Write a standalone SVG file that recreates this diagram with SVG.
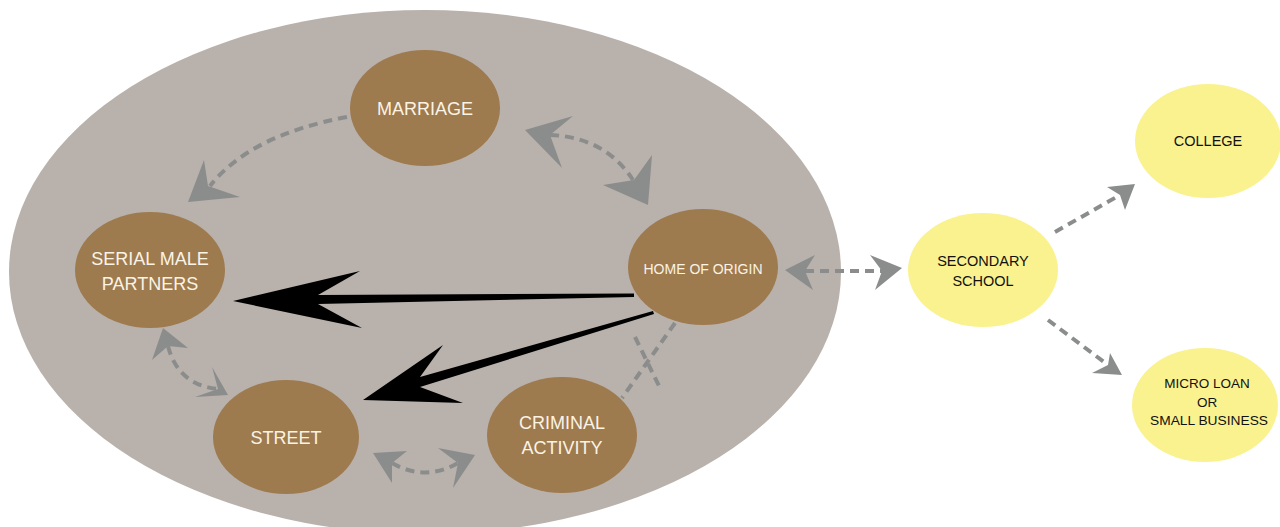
<svg xmlns="http://www.w3.org/2000/svg" width="1280" height="527" viewBox="0 0 1280 527">
<style>
.brown{fill:#9e7a4f}
.yellow{fill:#faf28f}
.lt{fill:#fbf3e4;font-family:"Liberation Sans",Arial,sans-serif;text-anchor:middle}
.dk{fill:#111111;font-family:"Liberation Sans",Arial,sans-serif;text-anchor:middle;font-size:14.5px}
.sm{font-size:13.5px}
.dash{fill:none;stroke:#8b8d8d;stroke-width:4;stroke-dasharray:9 6}
.head{fill:#8b8d8d}
.black{fill:#000}
</style>
<rect width="1280" height="527" fill="#ffffff"/>
<ellipse id="context" cx="425" cy="272" rx="416" ry="262" fill="#b9b1ab"/>
<g id="connectors">
  <path class="dash" d="M347,117 Q250,135 210,186"/>
  <polygon class="head" points="188,202 204,160 208,186 240,197"/>
  <path class="dash" d="M550,135 Q605,137 633,180"/>
  <polygon class="head" points="525,130 573,116 550,135 562,168"/>
  <polygon class="head" points="648,205 652,155 634,180 603,185"/>
  <path class="dash" d="M168,346 Q178,385 218,389"/>
  <polygon class="head" points="163,328 188,348 168,346 152,360"/>
  <polygon class="head" points="228,395 212,367 218,389 195,397"/>
  <path class="dash" d="M392,463 Q425,482 458,463"/>
  <polygon class="head" points="373,453 407,451 392,463 392,483"/>
  <polygon class="head" points="475,455 438,448 458,463 453,488"/>
  <path class="dash" d="M675,323 L622,398"/>
  <path class="dash" d="M635,337 L660,388"/>
  <path class="dash" d="M805,271 L882,271"/>
  <polygon class="head" points="785,270 815,255 805,271 813,290"/>
  <polygon class="head" points="902,268 870,255 882,271 875,290"/>
  <path class="dash" d="M1055,232 L1120,195"/>
  <polygon class="head" points="1135,184 1107,187 1120,195 1125,210"/>
  <path class="dash" d="M1048,320 L1108,365"/>
  <polygon class="head" points="1122,375 1110,353 1108,365 1092,373"/>
  <path class="black" d="M634,293.5 L318,295 L360,271 L233,301 L362,328 L318,304 L634,297 Z"/>
  <path class="black" d="M653,311 L420,377 L443,345 L363,400 L463,403 L420,387 L654,314 Z"/>
</g>
<g id="marriage">
  <ellipse class="brown" cx="425" cy="108" rx="75" ry="58"/>
  <text class="lt" x="425" y="115" font-size="18">MARRIAGE</text>
</g>
<g id="serial">
  <ellipse class="brown" cx="150" cy="270" rx="75" ry="58"/>
  <text class="lt" x="150" y="265" font-size="18">SERIAL MALE</text>
  <text class="lt" x="150" y="290" font-size="18">PARTNERS</text>
</g>
<g id="home">
  <ellipse class="brown" cx="703" cy="267" rx="75" ry="58"/>
  <text class="lt" x="703" y="274" font-size="14">HOME OF ORIGIN</text>
</g>
<g id="street">
  <ellipse class="brown" cx="286" cy="437" rx="73" ry="57"/>
  <text class="lt" x="286" y="444" font-size="18">STREET</text>
</g>
<g id="criminal">
  <ellipse class="brown" cx="562" cy="435" rx="75" ry="58"/>
  <text class="lt" x="562" y="429" font-size="18">CRIMINAL</text>
  <text class="lt" x="562" y="454" font-size="18">ACTIVITY</text>
</g>
<g id="secondary">
  <ellipse class="yellow" cx="983" cy="270" rx="75" ry="57"/>
  <text class="dk" x="983" y="266">SECONDARY</text>
  <text class="dk" x="983" y="286">SCHOOL</text>
</g>
<g id="college">
  <ellipse class="yellow" cx="1208" cy="141" rx="73" ry="57"/>
  <text class="dk" x="1208" y="146">COLLEGE</text>
</g>
<g id="micro">
  <ellipse class="yellow" cx="1205" cy="405" rx="73" ry="57"/>
  <text class="dk sm" x="1207" y="388">MICRO LOAN</text>
  <text class="dk sm" x="1207" y="407">OR</text>
  <text class="dk sm" x="1209" y="425" textLength="118" lengthAdjust="spacingAndGlyphs">SMALL BUSINESS</text>
</g>
</svg>
